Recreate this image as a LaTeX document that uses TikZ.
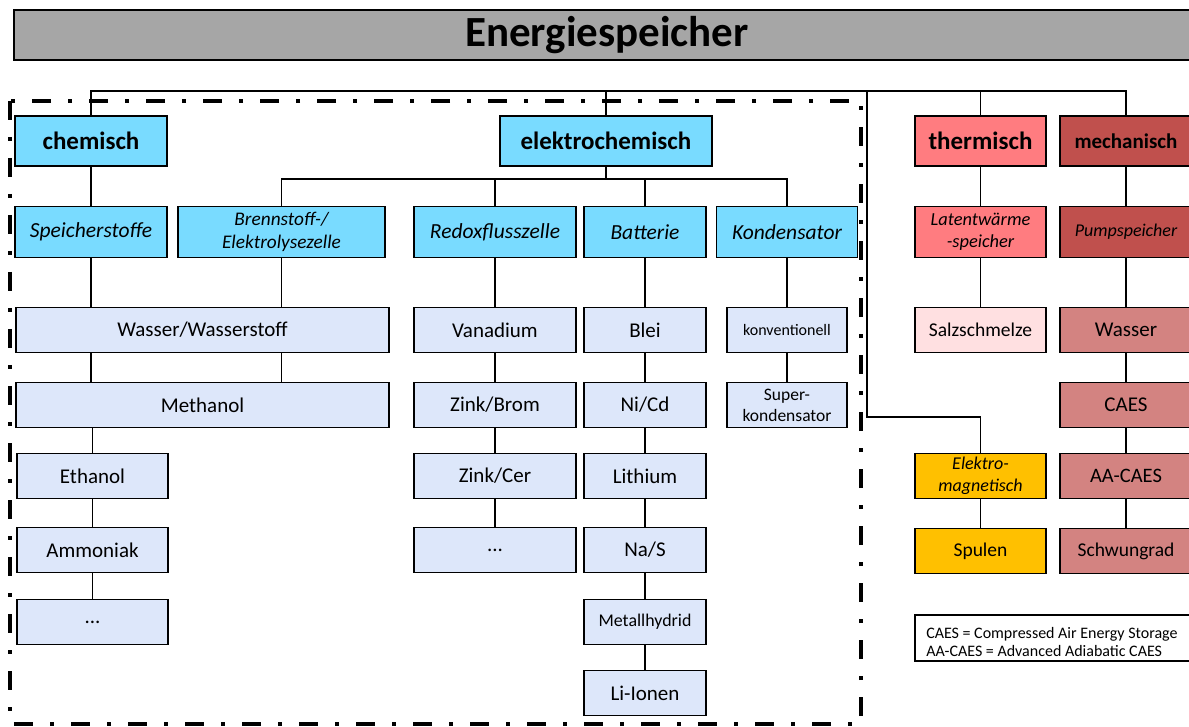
\documentclass[tikz,border=0pt]{standalone}
\usepackage{fontspec}
\setmainfont{Carlito}
\usetikzlibrary{positioning,calc}
\definecolor{titlegray}{RGB}{166,166,166}
\definecolor{headblue}{RGB}{121,219,255}
\definecolor{leafblue}{RGB}{221,231,250}
\definecolor{thermred}{RGB}{255,124,128}
\definecolor{saltpink}{RGB}{255,224,225}
\definecolor{mechred}{RGB}{192,80,77}
\definecolor{mechleaf}{RGB}{211,131,129}
\definecolor{emyellow}{RGB}{255,192,0}

\begin{document}
\begin{tikzpicture}[
        x=1pt,y=-1pt,
        box/.style={draw,line width=1.9pt,inner sep=0pt,minimum height=45pt,align=center,font=\fontsize{21}{23}\selectfont},
        head/.style={box,fill=headblue,minimum height=50pt,font=\fontsize{25}{29}\selectfont\bfseries},
        sub/.style={box,fill=headblue,minimum height=51pt,font=\fontsize{21.5}{23}\selectfont\itshape},
        leaf/.style={box,fill=leafblue},
        link/.style={line width=1.9pt},
        dashframe/.style={line width=4pt,dash pattern=on 19pt off 17pt on 4pt off 17pt}
    ]
        \useasboundingbox (0,0) rectangle (1189,727);
        \fill[white] (0,0) rectangle (1189,727);

        % Title
        \node[draw,line width=1.9pt,fill=titlegray,inner sep=0pt,minimum width=1186pt,minimum height=50pt,
              font=\fontsize{43}{48}\selectfont\bfseries] (title) at (607,35) {Energiespeicher};

        % Frame around chemisch/elektrochemisch
        \draw[dashframe] (10,101) rectangle (861,724);

        % Main groups
        \node[head,minimum width=152pt] (chem) at (91,141) {chemisch};
        \node[head,minimum width=212pt] (elchem) at (606,141) {elektrochemisch};
        \node[head,fill=thermred,minimum width=131pt] (therm) at (980.5,141) {thermisch};
        \node[head,fill=mechred,minimum width=132pt,font=\fontsize{21}{25}\selectfont\bfseries] (mech) at (1126,141) {mechanisch};

        % Second level
        \node[sub,minimum width=152pt] (speicher) at (91,232) {Speicherstoffe};
        \node[sub,minimum width=207pt,font=\fontsize{19.3}{23}\selectfont\itshape] (brenn) at (281.5,232) {Brennstoff-/\\Elektrolysezelle};
        \node[sub,minimum width=162pt] (redox) at (495,232) {Redoxflusszelle};
        \node[sub,minimum width=122pt] (batt) at (645,232) {Batterie};
        \node[sub,minimum width=141pt] (kond) at (787,232) {Kondensator};
        \node[sub,fill=thermred,minimum width=131pt,font=\fontsize{18.4}{22}\selectfont\itshape] (latent) at (980.5,232) {Latentwärme\\-speicher};
        \node[sub,fill=mechred,minimum width=132pt,font=\fontsize{18}{22}\selectfont\itshape] (pump) at (1126,232) {Pumpspeicher};

        % Chemische Speicher
        \node[leaf,minimum width=373pt] (wasserh2) at (202.5,330) {Wasser/Wasserstoff};
        \node[leaf,minimum width=373pt] (methanol) at (202.5,405) {Methanol};
        \node[leaf,minimum width=151pt] (ethanol) at (92.5,476) {Ethanol};
        \node[leaf,minimum width=151pt] (ammoniak) at (92.5,550) {Ammoniak};
        \node[leaf,minimum width=151pt] (chemdots) at (92.5,622) {...};

        % Redoxflusszellen
        \node[leaf,minimum width=162pt] (vanad) at (495,330) {Vanadium};
        \node[leaf,minimum width=162pt] (zinkbrom) at (495,405) {Zink/Brom};
        \node[leaf,minimum width=162pt] (zinkcer) at (495,476) {Zink/Cer};
        \node[leaf,minimum width=162pt] (redoxdots) at (495,550) {...};

        % Batterien
        \node[leaf,minimum width=122pt] (blei) at (645,330) {Blei};
        \node[leaf,minimum width=122pt] (nicd) at (645,405) {Ni/Cd};
        \node[leaf,minimum width=122pt] (lithium) at (645,476) {Lithium};
        \node[leaf,minimum width=122pt] (nas) at (645,550) {Na/S};
        \node[leaf,minimum width=122pt,font=\fontsize{17.9}{20}\selectfont] (metall) at (645,622) {Metallhydrid};
        \node[leaf,minimum width=122pt] (liionen) at (645,693) {Li-Ionen};

        % Kondensatoren
        \node[leaf,minimum width=120pt,font=\fontsize{16}{19}\selectfont] (konv) at (787,330) {konventionell};
        \node[leaf,minimum width=120pt,font=\fontsize{17.5}{21}\selectfont] (superkond) at (787,405) {Super-\\kondensator};

        % Thermisch / elektromagnetisch
        \node[box,fill=saltpink,minimum width=131pt,font=\fontsize{19.5}{22}\selectfont] (salz) at (980.5,330) {Salzschmelze};
        \node[box,fill=emyellow,minimum width=131pt,font=\fontsize{18}{22}\selectfont\itshape] (emag) at (980.5,476) {Elektro-\\magnetisch};
        \node[box,fill=emyellow,minimum width=131pt,font=\fontsize{19.5}{22}\selectfont] (spulen) at (980.5,551) {Spulen};

        % Mechanisch
        \node[box,fill=mechleaf,minimum width=132pt] (wasser) at (1126,330) {Wasser};
        \node[box,fill=mechleaf,minimum width=132pt] (caes) at (1126,405) {CAES};
        \node[box,fill=mechleaf,minimum width=132pt,font=\fontsize{20.5}{22}\selectfont] (aacaes) at (1126,476) {AA-CAES};
        \node[box,fill=mechleaf,minimum width=132pt,font=\fontsize{19.5}{22}\selectfont] (schwung) at (1126,551) {Schwungrad};

        % Legend
        \node[draw,line width=1.9pt,minimum width=285pt,minimum height=46pt] (legend) at (1057.5,638) {};
        \node[anchor=west,align=left,inner sep=0pt,font=\fontsize{16}{18}\selectfont] (legendtxt) at ([xshift=12pt,yshift=-4pt]legend.west)
            {CAES = Compressed Air Energy Storage\\AA-CAES = Advanced Adiabatic CAES};

        % Top bus
        \coordinate (bus) at (0,91);
        \draw[link] (chem.north) -- (chem.north |- bus) -| (mech.north);
        \draw[link] (elchem.north) -- (elchem.north |- bus);
        \draw[link] (therm.north) -- (therm.north |- bus);
        \coordinate (split) at (867,91);
        \coordinate (bend) at (867,417);
        \draw[link] (split) -- (bend) -| (emag.north);

        % Elektrochemisch bus
        \coordinate (ebus) at (0,179);
        \draw[link] (elchem.south) -- (elchem.south |- ebus);
        \draw[link] (brenn.north) -- (brenn.north |- ebus) -- (kond.north |- ebus) -- (kond.north);
        \draw[link] (redox.north) -- (redox.north |- ebus);
        \draw[link] (batt.north) -- (batt.north |- ebus);

        % Chemisch links
        \draw[link] (chem) -- (speicher);
        \draw[link] (speicher) -- (speicher |- wasserh2.north);
        \draw[link] (brenn) -- (brenn |- wasserh2.north);
        \draw[link] (wasserh2.south -| speicher) -- (methanol.north -| speicher);
        \draw[link] (wasserh2.south -| brenn) -- (methanol.north -| brenn);
        \draw[link] (methanol.south -| ethanol) -- (ethanol);
        \draw[link] (ethanol) -- (ammoniak) (ammoniak) -- (chemdots);

        % Elektrochemisch links
        \draw[link] (redox) -- (vanad) (vanad) -- (zinkbrom) (zinkbrom) -- (zinkcer) (zinkcer) -- (redoxdots);
        \draw[link] (batt) -- (blei) (blei) -- (nicd) (nicd) -- (lithium) (lithium) -- (nas) (nas) -- (metall) (metall) -- (liionen);
        \draw[link] (kond) -- (konv) (konv) -- (superkond);

        % Thermisch and mechanisch links
        \draw[link] (therm) -- (latent) (latent) -- (salz);
        \draw[link] (emag) -- (spulen);
        \draw[link] (mech) -- (pump) (pump) -- (wasser) (wasser) -- (caes) (caes) -- (aacaes) (aacaes) -- (schwung);
    \end{tikzpicture}
\end{document}
